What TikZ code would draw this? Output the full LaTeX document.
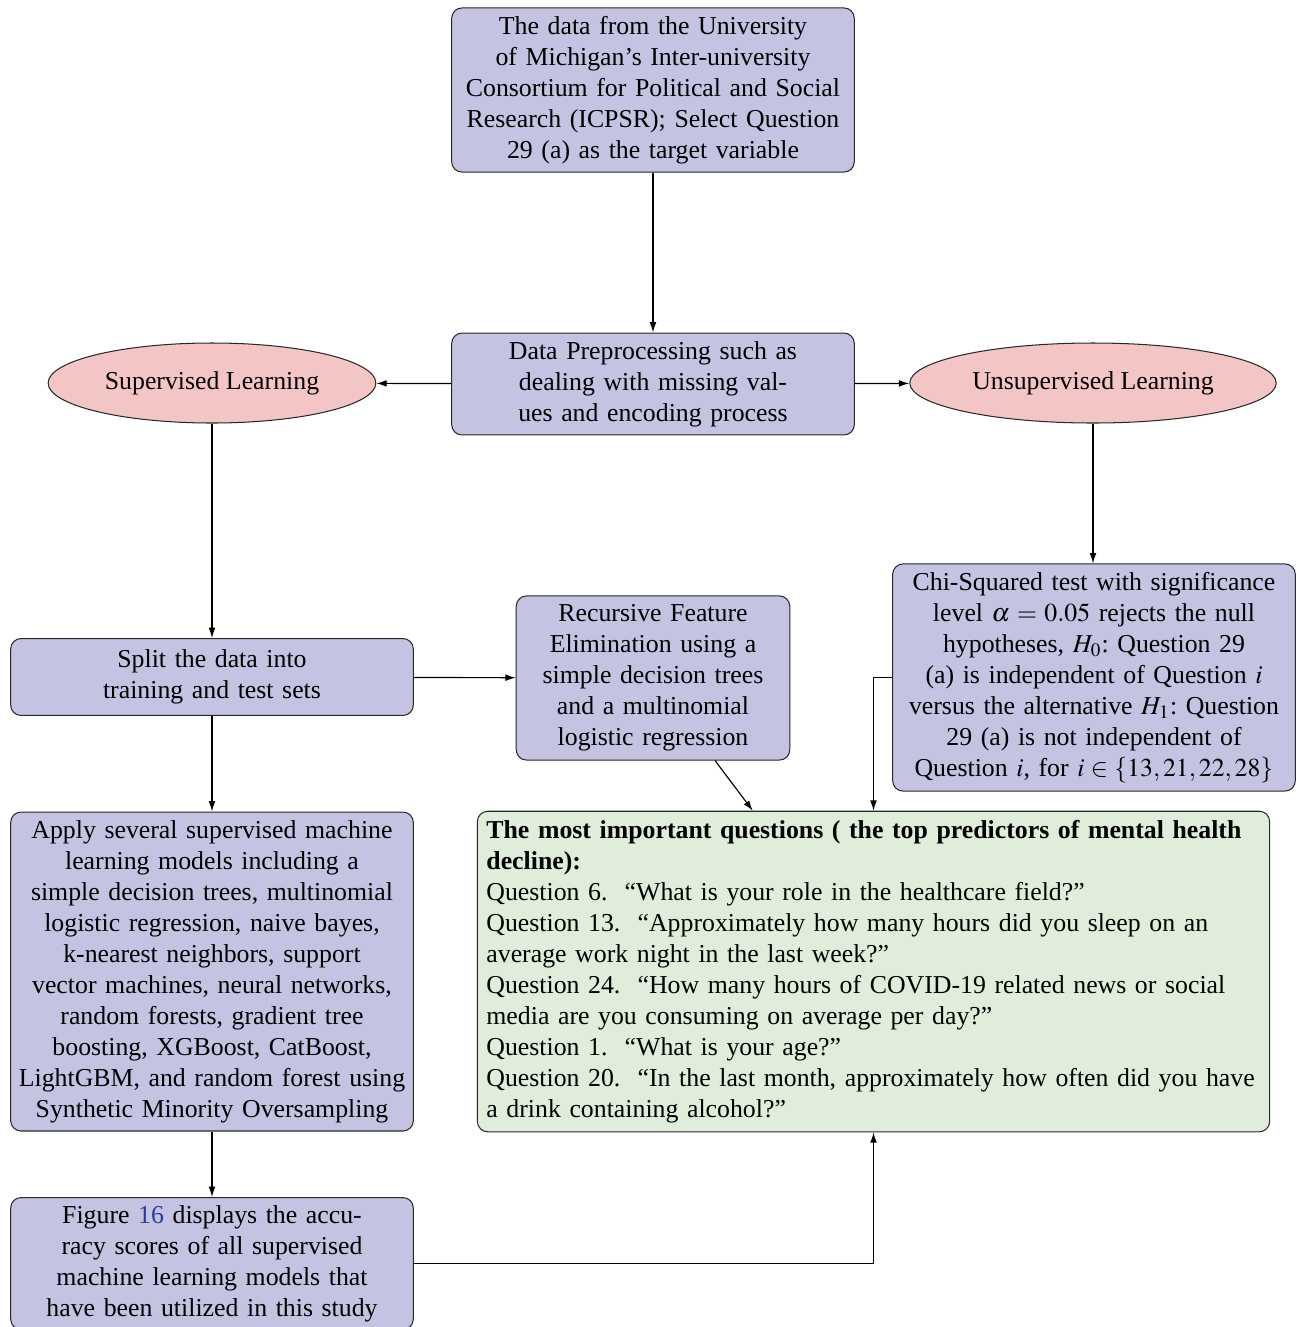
\documentclass[tikz,border=0pt]{standalone}
\usepackage{mathptmx}
\usepackage{fontspec}
\setmainfont{Liberation Serif}
\usetikzlibrary{shapes.geometric,arrows.meta}
\definecolor{boxblue}{RGB}{196,195,226}
\definecolor{ellpink}{RGB}{243,197,197}
\definecolor{boxgreen}{RGB}{224,237,219}
\definecolor{linkblue}{RGB}{40,60,160}
\definecolor{edgegray}{RGB}{40,40,40}
\tikzset{
  flowbox/.style={draw=edgegray, fill=boxblue, rounded corners=4pt, align=center, inner sep=3pt, font=\fontsize{10}{12}\selectfont},
  wide/.style={text width=150pt},
  ellbox/.style={draw=edgegray, fill=ellpink, ellipse, inner sep=0pt, font=\fontsize{10}{12}\selectfont},
  greenbox/.style={draw=edgegray, fill=boxgreen, rounded corners=4pt, align=left, inner sep=3.5pt, text width=300pt, font=\fontsize{10}{12}\selectfont},
  conn/.style={-{Latex[length=4pt,width=2.6pt]}, line width=0.45pt, draw=black}
}
\begin{document}
\begin{tikzpicture}[x=0.3875pt, y=-0.3875pt]
\useasboundingbox (0,0) rectangle (1306,1327);

\node[flowbox, wide, minimum height=63.6pt] (data) at (653,90)
  {The data from the University\\ of Michigan's Inter-university\\ Consortium for Political and Social\\ Research (ICPSR); Select Question\\ 29 (a) as the target variable};

\node[flowbox, wide, minimum height=39.5pt] (prep) at (653,384)
  {Data Preprocessing such as\\ dealing with missing val-\\ ues and encoding process};

\node[ellbox, minimum width=127pt, minimum height=31pt] (sup) at (212,383) {Supervised Learning};
\node[ellbox, minimum width=142pt, minimum height=31pt] (unsup) at (1093,383) {Unsupervised Learning};

\node[flowbox, wide, minimum height=29.8pt] (split) at (212,677)
  {Split the data into\\ training and test sets};

\node[flowbox, text width=100pt, minimum height=63.6pt] (rfe) at (653,678)
  {Recursive Feature\\ Elimination using a\\ simple decision trees\\ and a multinomial\\ logistic regression};

\node[flowbox, wide, minimum height=88pt] (chi) at (1094,677.5)
  {Chi-Squared test with significance\\ level $\alpha=0.05$ rejects the null\\ hypotheses, $H_0$:~Question 29\\ (a) is independent of Question $i$\\ versus the alternative $H_1$:~Question\\ 29 (a) is not independent of\\ Question $i$, for $i\in\{13,21,22,28\}$};

\node[flowbox, wide, minimum height=123.6pt] (apply) at (212,971.5)
  {Apply several supervised machine\\ learning models including a\\ simple decision trees, multinomial\\ logistic regression, naive bayes,\\ k-nearest neighbors, support\\ vector machines, neural networks,\\ random forests, gradient tree\\ boosting, XGBoost, CatBoost,\\ LightGBM, and random forest using\\ Synthetic Minority Oversampling};

\node[greenbox, minimum height=123.6pt] (green) at (873.5,971.5)
  {\textbf{The most important questions ( the top predictors of mental health decline):}\\
   Question 6.\ \ ``What is your role in the healthcare field?''\\
   Question 13.\ \ ``Approximately how many hours did you sleep on an\\ average work night in the last week?''\\
   Question 24.\ \ ``How many hours of COVID-19 related news or social\\ media are you consuming on average per day?''\\
   Question 1.\ \ ``What is your age?''\\
   Question 20.\ \ ``In the last month, approximately how often did you have\\ a drink containing alcohol?''};

\node[flowbox, wide, minimum height=50pt] (fig) at (212,1263.5)
  {Figure \textcolor{linkblue}{16} displays the accu-\\ racy scores of all supervised\\ machine learning models that\\ have been utilized in this study};

\draw[conn] (data) -- (prep);
\draw[conn] (prep) -- (sup);
\draw[conn] (prep) -- (unsup);
\draw[conn] (sup) -- (split);
\draw[conn] (unsup.south) -- (chi.north -| unsup.south);
\draw[conn] (split) -- (rfe);
\draw[conn] (split) -- (apply);
\draw[conn] (rfe) -- (green);
\draw[conn] (chi.west) -| (green.north);
\draw[conn] (apply) -- (fig);
\draw[conn] (fig.east) -| (green.south);
\end{tikzpicture}
\end{document}
